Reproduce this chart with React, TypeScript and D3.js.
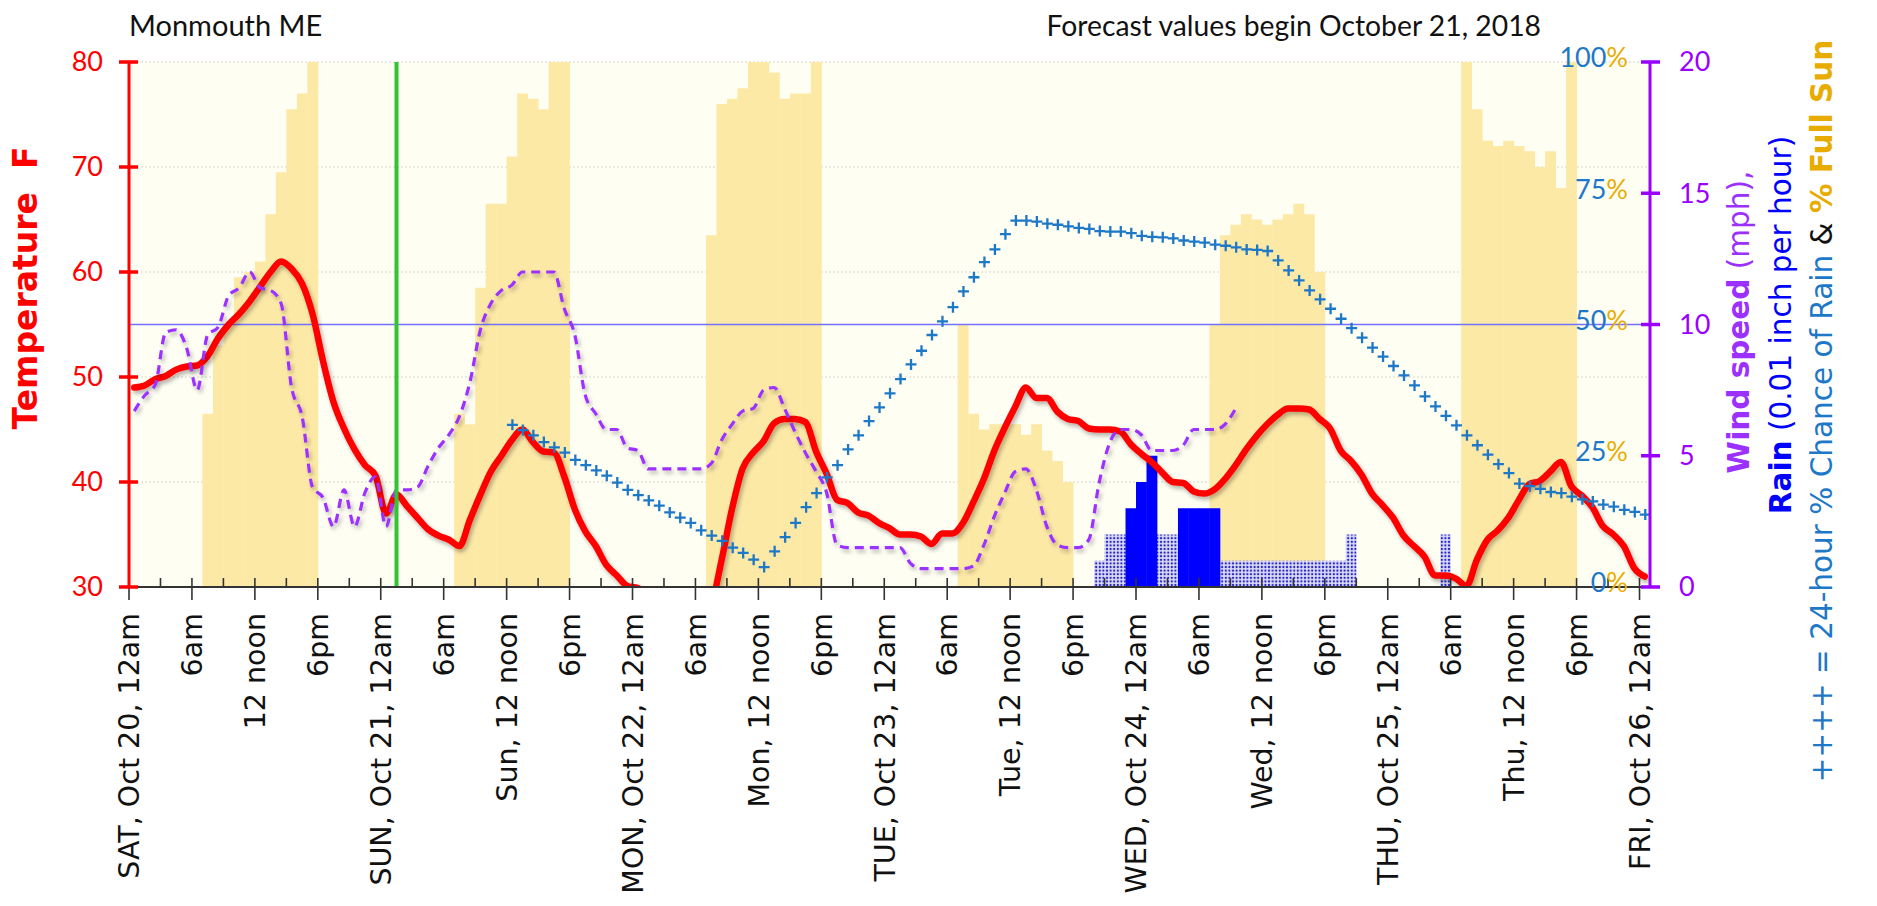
import React from 'react';
import * as d3 from 'd3';

// Hourly temperature (F), hour index i plotted at i + 0.5
const tempF = [
  49, 49.2, 49.8, 50.1, 50.7, 51, 51.1, 52, 53.7, 55,
  56, 57.2, 58.6, 60, 61, 60.3, 58.9, 56, 51.5, 47.6,
  45.1, 43.1, 41.6, 40.6, 37, 38.8, 37.7, 36.6, 35.5, 34.9,
  34.5, 33.9, 36.4, 38.8, 41, 42.5, 44, 45, 43.8, 42.9,
  42.8, 40.5, 37.4, 35.3, 33.9, 32.1, 31.1, 30.1, 29.9, 29.2,
  28.4, 27.8, 27.3, 27, 27.2, 28.3, 32.6, 37.5, 41.3, 42.8,
  43.9, 45.6, 46, 46, 45.7, 42.9, 40.8, 38.3, 38, 37.1,
  36.8, 36.1, 35.6, 35, 35, 34.8, 34.1, 35.1, 35.1, 36.1,
  38.1, 40.3, 43, 45.2, 47.2, 49, 48, 48, 46.7, 46,
  45.8, 45.1, 45, 45, 44.8, 43.6, 42.7, 41.9, 40.9, 40,
  39.9, 39.1, 38.9, 39.3, 40.3, 41.6, 43.1, 44.4, 45.5, 46.4,
  47, 47, 46.9, 46, 45.1, 43, 42, 40.7, 38.9, 37.8,
  36.6, 34.9, 33.9, 32.9, 31.1, 31.1, 30.8, 30.1, 32.6, 34.5,
  35.4, 36.6, 38.3, 39.8, 40.1, 41, 41.9, 39.6, 38.7, 37.6,
  35.8, 35, 33.9, 31.8, 31,
];

// Hourly wind speed (mph)
const windMph = [
  6.7, 7.3, 7.7, 9.7, 9.8, 9.1, 7.5, 9.6, 9.9, 11.1,
  11.4, 12, 11.4, 11.3, 10.8, 7.6, 6.5, 3.8, 3.4, 2.3,
  3.7, 2.3, 3.6, 4.2, 2.3, 3.7, 3.7, 3.8, 4.6, 5.3,
  5.8, 6.5, 7.8, 9.8, 10.8, 11.3, 11.5, 12, 12, 12,
  12, 10.6, 9.6, 7.3, 6.6, 6, 6, 5.3, 5.2, 4.5,
  4.5, 4.5, 4.5, 4.5, 4.5, 4.7, 5.6, 6.2, 6.7, 6.8,
  7.5, 7.6, 6.8, 5.9, 5.1, 4.4, 3.6, 1.6, 1.5, 1.5,
  1.5, 1.5, 1.5, 1.5, 0.9, 0.7, 0.7, 0.7, 0.7, 0.7,
  0.8, 1.6, 2.7, 3.6, 4.4, 4.5, 3.7, 2.3, 1.6, 1.5,
  1.5, 1.8, 4, 5.5, 6, 6, 5.8, 5.2, 5.2, 5.2,
  5.4, 6, 6, 6, 6.2, 6.8,
];

// 24-hour % chance of rain, from hour 36
const rainChanceStart = 36;
const rainChancePct = [
  30.9, 29.9, 28.9, 27.6, 26.6, 25.6, 24.2, 23.2, 22.2, 21.2,
  19.9, 18.5, 17.5, 16.5, 15.5, 14.2, 13.2, 12.2, 10.8, 9.8,
  8.8, 7.5, 6.5, 5.2, 3.8, 6.8, 9.5, 12.2, 15.2, 17.9,
  20.9, 23.2, 26.2, 28.9, 31.6, 34.2, 36.9, 39.6, 42.4, 45,
  48, 50.6, 53.3, 56.3, 59, 61.9, 64.3, 67.2, 69.8, 69.8,
  69.6, 69.2, 69, 68.7, 68.4, 68.2, 67.8, 67.7, 67.7, 67.4,
  66.9, 66.7, 66.6, 66.4, 66, 65.8, 65.6, 65.2, 65, 64.7,
  64.3, 64.2, 64, 62.2, 60.3, 58.4, 56.5, 54.8, 53, 51.1,
  49.3, 47.5, 45.6, 43.9, 42.1, 40.3, 38.4, 36.3, 34.4, 32.6,
  30.8, 28.9, 27, 25.2, 23.4, 21.7, 19.7, 19.2, 18.7, 18.1,
  17.9, 17.2, 16.7, 16.3, 15.7, 15.3, 14.7, 14.3, 13.8,
];

// % full sun per hour
const sunPct = [
  0, 0, 0, 0, 0, 0, 0, 33, 46, 50,
  59, 60, 62, 71, 79, 91, 94, 100, 0, 0,
  0, 0, 0, 0, 0, 0, 0, 0, 0, 0,
  0, 33, 31, 57, 73, 73, 82, 94, 93, 91,
  100, 100, 0, 0, 0, 0, 0, 0, 0, 0,
  0, 0, 0, 0, 0, 67, 92, 93, 95, 100,
  100, 98, 93, 94, 94, 100, 0, 0, 0, 0,
  0, 0, 0, 0, 0, 0, 0, 0, 0, 50,
  33, 30, 31, 31, 31, 29, 31, 26, 24, 20,
  0, 0, 0, 0, 0, 0, 0, 0, 0, 0,
  0, 0, 0, 50, 67, 69, 71, 70, 69, 70,
  71, 73, 71, 60, 0, 0, 0, 0, 0, 0,
  0, 0, 0, 0, 0, 0, 0, 100, 91, 85,
  84, 85, 84, 83, 80, 83, 76, 100, 0, 0,
  0, 0, 0, 0, 0,
];

// Rain amounts (0.01 inch per hour)
const rainHours = [95, 96, 97, 100, 101, 102, 103];
const rainAmt = [3, 4, 5, 3, 3, 3, 3];

// Stippled (possible rain) bars
const dotHours = [92, 93, 94, 98, 99, 104, 105, 106, 107, 108, 109, 110, 111, 112, 113, 114, 115, 116, 125];
const dotAmt = [1, 2, 2, 2, 2, 1, 1, 1, 1, 1, 1, 1, 1, 1, 1, 1, 1, 2, 2];

const tickLabels = [
  'SAT, Oct 20, 12am', '6am', '12 noon', '6pm',
  'SUN, Oct 21, 12am', '6am', 'Sun, 12 noon', '6pm',
  'MON, Oct 22, 12am', '6am', 'Mon, 12 noon', '6pm',
  'TUE, Oct 23, 12am', '6am', 'Tue, 12 noon', '6pm',
  'WED, Oct 24, 12am', '6am', 'Wed, 12 noon', '6pm',
  'THU, Oct 25, 12am', '6am', 'Thu, 12 noon', '6pm',
  'FRI, Oct 26, 12am',
];
const tempTicks = [30, 40, 50, 60, 70, 80];
const windTicks = [0, 5, 10, 15, 20];
const pctTicks = [0, 25, 50, 75, 100];
const forecastStartHour = 25.5;

const RED = '#FF0000';
const PURPLE = '#9B30FF';
const PURPLE_AXIS = '#9900FF';
const PBLUE = '#1E78C8';
const GOLD = '#E8AC00';
const SUN = '#FDE9A6';
const CREAM = '#FFFEF3';
const NUM_FONT = 'Lato, "Open Sans", sans-serif';
const TXT_FONT = '"DejaVu Sans", Verdana, sans-serif';

export default function App() {
  const W = 1877, H = 906;
  const L = 129, R = 1650, T = 62, B = 587;
  const x = d3.scaleLinear().domain([0, 145]).range([L, R]);
  const yT = d3.scaleLinear().domain([30, 80]).range([B, T]);
  const yW = d3.scaleLinear().domain([0, 20]).range([B, T]);
  const yP = d3.scaleLinear().domain([0, 100]).range([B, T]);

  const tempLine = d3.line<number>()
    .x((_, i) => x(i + 0.5))
    .y((d) => yT(d))
    .curve(d3.curveMonotoneX);
  const windLine = d3.line<number>()
    .x((_, i) => x(i + 0.5))
    .y((d) => yW(d))
    .curve(d3.curveMonotoneX);

  const xTicks = d3.range(0, 145, 3);
  const bw = x(1) - x(0);

  return (
    <svg width={W} height={H} style={{ position: 'absolute', left: 0, top: 0, display: 'block', background: '#fff' }}>
      <defs>
        <pattern id="dots" width="3.6" height="3.6" patternUnits="userSpaceOnUse">
          <rect width="3.6" height="3.6" fill="#dcdcf8" />
          <circle cx="1.8" cy="1.8" r="1.15" fill="#2020c4" />
        </pattern>
        <clipPath id="plotClip">
          <rect x={L} y={T - 10} width={R - L} height={B - T + 11} />
        </clipPath>
        <filter id="shadow" x="-2%" y="-10%" width="104%" height="130%">
          <feGaussianBlur in="SourceAlpha" stdDeviation="2" />
          <feOffset dx="2" dy="2.5" result="ob" />
          <feComponentTransfer>
            <feFuncA type="linear" slope="0.3" />
          </feComponentTransfer>
          <feMerge>
            <feMergeNode />
            <feMergeNode in="SourceGraphic" />
          </feMerge>
        </filter>
      </defs>

      {/* titles */}
      <text x={L} y={36} fontFamily={NUM_FONT} fontSize={29} fill="#111">Monmouth ME</text>
      <text x={1541} y={36} fontFamily={NUM_FONT} fontSize={28.3} fill="#111" textAnchor="end">Forecast values begin October 21, 2018</text>

      {/* plot background */}
      <rect x={L} y={T} width={R - L} height={B - T} fill={CREAM} />
      {tempTicks.filter((t) => t > 30).map((t) => (
        <line key={'g' + t} x1={L} x2={R} y1={yT(t)} y2={yT(t)} stroke="#e6e4da" strokeWidth={1.5} strokeDasharray="2,2" />
      ))}

      {/* sun bars */}
      {sunPct.map((v, i) => v > 0 ? (
        <rect key={'s' + i} x={x(i)} y={yP(v)} width={bw + 0.4} height={B - yP(v)} fill={SUN} />
      ) : null)}

      {/* stippled bars */}
      {dotHours.map((h, k) => (
        <rect key={'d' + k} x={x(h)} y={yW(dotAmt[k])} width={bw + 0.3} height={B - yW(dotAmt[k])} fill="url(#dots)" />
      ))}
      {/* rain bars */}
      {rainHours.map((h, k) => (
        <rect key={'r' + k} x={x(h)} y={yW(rainAmt[k])} width={bw + 0.4} height={B - yW(rainAmt[k])} fill="#0000FF" />
      ))}

      {/* 50% line */}
      <line x1={L} x2={R} y1={yP(50)} y2={yP(50)} stroke="#7272ff" strokeWidth={1.6} />

      {/* temperature */}
      <g clipPath="url(#plotClip)">
        <path d={tempLine(tempF) || ''} fill="none" stroke={RED} strokeWidth={6.5} strokeLinejoin="round" strokeLinecap="round" filter="url(#shadow)" />
      </g>

      {/* wind */}
      <path d={windLine(windMph) || ''} fill="none" stroke={PURPLE} strokeWidth={3.2} strokeDasharray="9,6" filter="url(#shadow)" />

      {/* chance of rain markers */}
      {rainChancePct.map((v, k) => {
        const cx = x(rainChanceStart + k + 0.55);
        const cy = yP(v);
        return <path key={'p' + k} d={`M${cx - 5.5},${cy}h11M${cx},${cy - 5.5}v11`} stroke={PBLUE} strokeWidth={2.3} fill="none" />;
      })}

      {/* forecast start */}
      <line x1={x(forecastStartHour)} x2={x(forecastStartHour)} y1={T} y2={B} stroke="#33C433" strokeWidth={4} />

      {/* x axis */}
      <line x1={L} x2={R + 4} y1={B} y2={B} stroke="#333" strokeWidth={2} />
      {xTicks.map((h) => (
        <line key={'xt' + h} x1={x(h)} x2={x(h)} y1={B - 9} y2={h % 6 === 0 ? B + 13 : B} stroke="#333" strokeWidth={1.6} />
      ))}
      {tickLabels.map((lab, k) => (
        <text key={'xl' + k} transform={`translate(${x(k * 6)},613) rotate(-90)`} textAnchor="end" dy="0.36em"
          fontFamily={TXT_FONT} fontSize={28.5} fill="#111">{lab}</text>
      ))}

      {/* left axis */}
      <line x1={L} x2={L} y1={T} y2={B} stroke={RED} strokeWidth={3} />
      {tempTicks.map((t) => (
        <g key={'lt' + t}>
          <line x1={L - 10} x2={L + 9} y1={yT(t)} y2={yT(t)} stroke={RED} strokeWidth={3.5} />
          <text x={103} y={yT(t)} dy="0.35em" textAnchor="end" fontFamily={NUM_FONT} fontSize={27} fill={RED}>{t}</text>
        </g>
      ))}
      <text transform={`translate(37,288) rotate(-90)`} textAnchor="middle" fontFamily={TXT_FONT} fontWeight="bold"
        fontSize={33} fill={RED} style={{ whiteSpace: 'pre' }}>{'Temperature  F'}</text>

      {/* right axis */}
      <line x1={R} x2={R} y1={T} y2={B} stroke={PURPLE_AXIS} strokeWidth={3} />
      {windTicks.map((t) => (
        <g key={'rt' + t}>
          <line x1={R - 9} x2={R + 10} y1={yW(t)} y2={yW(t)} stroke={PURPLE_AXIS} strokeWidth={3.5} />
          <text x={1679} y={yW(t)} dy="0.35em" fontFamily={NUM_FONT} fontSize={27} fill={PURPLE_AXIS}>{t}</text>
        </g>
      ))}
      {pctTicks.map((p) => (
        <text key={'pt' + p} x={1628} y={yP(p) - 4} dy="0.35em" textAnchor="end" fontFamily={NUM_FONT} fontSize={27}>
          <tspan fill={PBLUE}>{p}</tspan><tspan fill={GOLD}>%</tspan>
        </text>
      ))}

      {/* right titles */}
      <text transform="translate(1749,322) rotate(-90)" textAnchor="middle" fontFamily={TXT_FONT} fontSize={29.5} fill={PURPLE}>
        <tspan fontWeight="bold">Wind speed</tspan><tspan> (mph),</tspan>
      </text>
      <text transform="translate(1791,325) rotate(-90)" textAnchor="middle" fontFamily={TXT_FONT} fontSize={29.5} fill="#0000FF">
        <tspan fontWeight="bold">Rain</tspan><tspan> (0.01 inch per hour)</tspan>
      </text>
      <text transform="translate(1832,411) rotate(-90)" textAnchor="middle" fontFamily={TXT_FONT} fontSize={29.5}>
        <tspan fill={PBLUE}>++++ = 24-hour % Chance of Rain</tspan>
        <tspan fill="#111"> &amp; </tspan>
        <tspan fill={GOLD} fontWeight="bold">% Full Sun</tspan>
      </text>
    </svg>
  );
}
